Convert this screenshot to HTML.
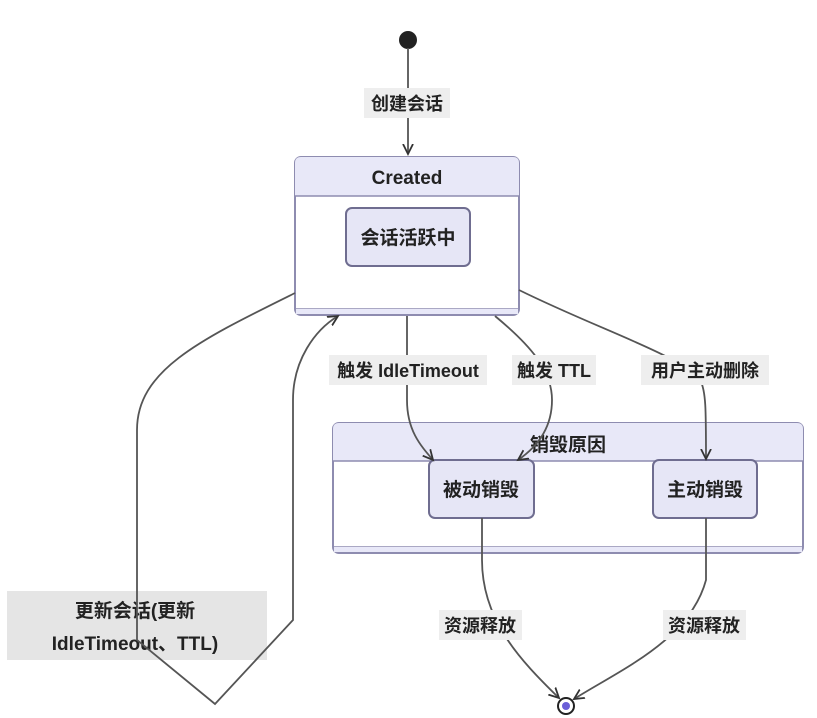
<!DOCTYPE html>
<html><head><meta charset="utf-8"><style>
html,body{margin:0;padding:0;background:#fff;width:817px;height:718px;overflow:hidden}
text{font-family:"Liberation Sans","Noto Sans CJK SC",sans-serif;fill:#222}
</style></head><body>
<svg width="817" height="718" viewBox="0 0 817 718" xmlns="http://www.w3.org/2000/svg">
<defs><marker id="a" markerWidth="12" markerHeight="12" refX="10" refY="6" orient="auto" markerUnits="userSpaceOnUse"><path d="M0,1 L10,6 L0,11" fill="none" stroke="#333" stroke-width="1.8"/></marker></defs>
<circle cx="408" cy="40" r="9" fill="#222"/>
<!-- Created -->
<rect x="295" y="157" width="224" height="158" rx="6" fill="#fff" stroke="#8e8cb0" stroke-width="2"/>
<path d="M295,196 L295,163 Q295,157 301,157 L513,157 Q519,157 519,163 L519,196 Z" fill="#e8e8f8"/>
<line x1="295" y1="196" x2="519" y2="196" stroke="#8e8cb0" stroke-width="1.5"/>
<line x1="296" y1="309" x2="518" y2="309" stroke="#8e8cb0" stroke-width="1.5"/>
<rect x="296" y="309" width="222" height="5" fill="#e8e8f8"/>
<text x="407" y="184" font-size="19" font-weight="bold" text-anchor="middle">Created</text>
<rect x="346" y="208" width="124" height="58" rx="6" fill="#e6e6f6" stroke="#6f6d90" stroke-width="2"/>
<text x="408" y="244" font-size="19" text-anchor="middle" font-weight="bold">会话活跃中</text>
<!-- cluster -->
<rect x="333" y="423" width="470" height="130" rx="6" fill="#fff" stroke="#8e8cb0" stroke-width="2"/>
<path d="M333,461 L333,429 Q333,423 339,423 L797,423 Q803,423 803,429 L803,461 Z" fill="#e8e8f8"/>
<line x1="333" y1="461" x2="803" y2="461" stroke="#8e8cb0" stroke-width="1.5"/>
<line x1="334" y1="547" x2="802" y2="547" stroke="#8e8cb0" stroke-width="1.5"/>
<rect x="334" y="547" width="468" height="5" fill="#e8e8f8"/>
<text x="568" y="451" font-size="19" font-weight="bold" text-anchor="middle">销毁原因</text>
<rect x="429" y="460" width="105" height="58" rx="6" fill="#e6e6f6" stroke="#6f6d90" stroke-width="2"/>
<text x="481" y="496" font-size="19" font-weight="bold" text-anchor="middle">被动销毁</text>
<rect x="653" y="460" width="104" height="58" rx="6" fill="#e6e6f6" stroke="#6f6d90" stroke-width="2"/>
<text x="705" y="496" font-size="19" font-weight="bold" text-anchor="middle">主动销毁</text>
<rect x="7" y="591" width="260" height="69" fill="#e5e5e5"/>
<g font-size="19" font-weight="bold" text-anchor="middle">
<text x="135" y="617">更新会话(更新</text>
<text x="135" y="650">IdleTimeout、TTL)</text>
</g>
<g fill="none" stroke="#555" stroke-width="1.8">
<path d="M408,48 L408,154" marker-end="url(#a)"/>
<path d="M295,293 C200,340 137,370 137,430 L137,640 L215,704 L293,620 L293,400 C293,360 315,330 338,316" marker-end="url(#a)"/>
<path d="M407,316 L407,400 C407,430 420,445 433,460" marker-end="url(#a)"/>
<path d="M495,316 C530,345 552,370 552,400 C552,425 540,445 518,460" marker-end="url(#a)"/>
<path d="M519,290 C600,330 680,355 700,380 C706,390 706,410 706,459" marker-end="url(#a)"/>
<path d="M482,518 L482,560 C482,620 520,660 559,698" marker-end="url(#a)"/>
<path d="M706,518 L706,580 C690,640 620,670 574,699" marker-end="url(#a)"/>
</g>
<g fill="#eee">
<rect x="364" y="88" width="86" height="30"/>
<rect x="329" y="355" width="158" height="30"/>
<rect x="512" y="355" width="84" height="30"/>
<rect x="641" y="355" width="128" height="30"/>
<rect x="439" y="610" width="83" height="30"/>
<rect x="663" y="610" width="83" height="30"/>
</g>
<g font-size="18" font-weight="bold" text-anchor="middle">
<text x="407" y="110">创建会话</text>
<text x="408" y="377">触发 IdleTimeout</text>
<text x="554" y="377">触发 TTL</text>
<text x="705" y="377">用户主动删除</text>
<text x="480" y="632">资源释放</text>
<text x="704" y="632">资源释放</text>
</g>
<circle cx="566" cy="706" r="8" fill="#fff" stroke="#222" stroke-width="2"/>
<circle cx="566" cy="706" r="4" fill="#6b5fd8"/>
</svg>
</body></html>
